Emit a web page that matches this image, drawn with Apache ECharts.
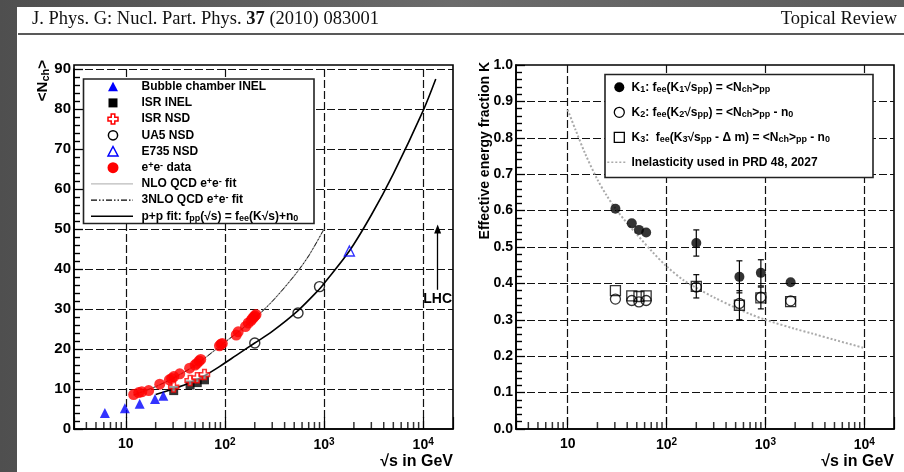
<!DOCTYPE html>
<html>
<head>
<meta charset="utf-8">
<title>Nch and K vs sqrt(s)</title>
<script src="https://cdn.jsdelivr.net/npm/echarts@6.0.0/dist/echarts.min.js"></script>
<style>
  html, body { margin: 0; padding: 0; }
  body { width: 904px; height: 472px; position: relative; overflow: hidden;
         background: linear-gradient(90deg, #4f4f4f, #6b6b6b 50%, #5c5c5c); }
  #page { position: absolute; left: 17px; top: 7px; right: 0; bottom: 0; background: #fff; }
  #main { position: absolute; left: 0; top: 0; width: 904px; height: 472px; }
</style>
</head>
<body>
<div id="page"></div>
<div id="main"></div>
<script>
var FONT = '"Liberation Sans", Arial, Helvetica, sans-serif';
var SERIF = '"Liberation Serif", "Times New Roman", serif';

// left panel: <Nch> against sqrt(s) in GeV
var bubbleInel = [[6.15, 4.0], [9.78, 5.2], [13.8, 6.3], [19.7, 7.5], [23.9, 8.3]];
var isrInel = [[30.4, 9.6], [44.5, 11.0], [52.6, 11.6], [62.2, 12.3]];
var isrNsd = [[30.4, 10.5], [44.5, 12.1], [52.6, 12.8], [62.2, 13.6]];
var ua5Nsd = [[200, 21.5], [546, 29.0], [900, 35.6]];
var e735Nsd = [[1800, 44.5]];
var eeData = [[12, 8.6], [13.5, 9.1], [14.5, 9.3], [17, 9.6], [22, 11.2], [27.5, 12.3], [29, 12.6],
  [30.5, 13.1], [35, 13.8], [44, 15.2], [50, 16.0], [52, 16.4], [55, 17.0], [57, 17.4],
  [88, 20.8], [91.2, 21.2], [94, 21.4], [130, 23.5], [136, 24.3], [161, 25.6], [172, 26.5],
  [183, 27.1], [189, 27.6], [196, 28.0], [200, 28.3], [206, 28.6]];
var eeFit = [[12, 8.5], [15, 9.4], [20, 10.6], [30, 12.7], [50, 15.9], [91, 20.9], [150, 25.1],
  [200, 27.7], [300, 31.9], [500, 38.3], [700, 43.3], [1000, 50]];
var ppFit = [[20, 8.6], [30, 10.0], [45, 11.6], [62, 13.3], [88, 15.6], [130, 18.4], [200, 21.5],
  [300, 24.4], [546, 29.6], [900, 35.0], [1000, 36.4], [1800, 44.5], [3000, 53.5], [5000, 63.8],
  [10000, 79.6], [13400, 87.5]];
var lhcArrow = [[14000, 34.8], [14000, 50]];

// right panel: effective energy fraction K
var k1 = [[30.4, 0.605], [44.5, 0.565], [52.6, 0.547], [62.2, 0.54], [200, 0.511], [546, 0.418], [900, 0.429], [1800, 0.403]];
var k1Err = [[200, 0.511, 0.036], [546, 0.418, 0.044], [900, 0.429, 0.036]];
var k2 = [[30.4, 0.357], [44.5, 0.353], [52.6, 0.349], [62.2, 0.353], [200, 0.39], [546, 0.345], [900, 0.362], [1800, 0.352]];
var k3 = [[30.4, 0.38], [44.5, 0.366], [52.6, 0.364], [62.2, 0.366], [200, 0.392], [546, 0.34], [900, 0.36], [1800, 0.35]];
var k3Err = [[200, 0.392, 0.032], [546, 0.34, 0.04], [900, 0.36, 0.03]];
var inelasticity = [[10, 0.877], [12, 0.822], [15, 0.757], [20, 0.685], [25, 0.64], [30, 0.608], [40, 0.565],
  [50, 0.535], [70, 0.49], [100, 0.447], [150, 0.408], [200, 0.388], [300, 0.362], [500, 0.333],
  [700, 0.316], [1000, 0.300], [2000, 0.275], [3000, 0.262], [5000, 0.245], [10000, 0.2225]];

// axis ticks
var xDecades = [10, 100, 1000, 10000];
var xDecadeLabels = ['10', '10{s|2}', '10{s|3}', '10{s|4}'];
var xMinorTicks = [4, 5, 6, 7, 8, 9, 20, 30, 40, 50, 60, 70, 80, 90, 200, 300, 400, 500, 600, 700, 800, 900,
  2000, 3000, 4000, 5000, 6000, 7000, 8000, 9000];

var leftLegend = [
  ['tri', 'Bubble chamber INEL'],
  ['sq', 'ISR INEL'],
  ['cross', 'ISR NSD'],
  ['ocirc', 'UA5 NSD'],
  ['otri', 'E735 NSD'],
  ['circ', 'e{sup|+}e{sup|-} data'],
  ['gline', 'NLO QCD e{sup|+}e{sup|-} fit'],
  ['dline', '3NLO QCD e{sup|+}e{sup|-} fit'],
  ['line', 'p+p fit: f{sub|pp}(\u221As) = f{sub|ee}(K\u221As)+n{sub|0}']
];
var rightLegend = [
  ['kcirc', 'K{sub|1}: f{sub|ee}(K{sub|1}\u221As{sub|pp}) = <N{sub|ch}>{sub|pp}'],
  ['kocirc', 'K{sub|2}: f{sub|ee}(K{sub|2}\u221As{sub|pp}) = <N{sub|ch}>{sub|pp} - n{sub|0}'],
  ['ksq', 'K{sub|3}:  f{sub|ee}(K{sub|3}\u221As{sub|pp} - \u0394 m) = <N{sub|ch}>{sub|pp} - n{sub|0}'],
  ['kdot', 'Inelasticity used in PRD 48, 2027']
];

var chart = echarts.init(document.getElementById('main'));

function xLabel(v) {
  for (var i = 0; i < xDecades.length; i++) {
    if (Math.abs(v - xDecades[i]) < xDecades[i] * 1e-6) return xDecadeLabels[i];
  }
  return '';
}

var gridDash = { color: '#111', width: 1.2, type: [8, 3] };

function logAxis(gi) {
  return {
    type: 'log', gridIndex: gi, logBase: 10, min: 3, max: 20000,
    axisLine: { show: true, onZero: false, lineStyle: { color: '#000', width: 1.6 } },
    axisTick: { show: true, inside: true, length: 12, lineStyle: { color: '#000', width: 1.2 } },
    minorTick: { show: false },
    splitLine: { show: true, showMinLine: false, showMaxLine: false, lineStyle: gridDash },
    axisLabel: {
      margin: 8, color: '#000', fontFamily: FONT, fontWeight: 'bold', fontSize: 14, formatter: xLabel,
      rich: { s: { fontFamily: FONT, fontWeight: 'bold', fontSize: 10, color: '#000', verticalAlign: 'top', padding: [0, 0, 7, 0] } }
    }
  };
}

// small upward ticks at 2..9 x 10^n, placed through the log axis
function minorTicks(gi) {
  return {
    type: 'scatter', xAxisIndex: gi, yAxisIndex: gi, silent: true, z: 5, clip: false,
    data: xMinorTicks.map(function (v) { return [v, 0]; }),
    symbol: 'rect', symbolSize: [1.5, 7], symbolOffset: [0, -3.5],
    itemStyle: { color: '#000' }
  };
}

function errorBars(data, gi) {
  return {
    type: 'custom', xAxisIndex: gi, yAxisIndex: gi, silent: true, z: 3, data: data,
    renderItem: function (params, api) {
      var x = api.value(0), y = api.value(1), e = api.value(2);
      var lo = api.coord([x, y - e]), hi = api.coord([x, y + e]);
      var st = { stroke: '#000', lineWidth: 1.2 };
      return { type: 'group', children: [
        { type: 'line', shape: { x1: lo[0], y1: lo[1], x2: hi[0], y2: hi[1] }, style: st },
        { type: 'line', shape: { x1: lo[0] - 3, y1: lo[1], x2: lo[0] + 3, y2: lo[1] }, style: st },
        { type: 'line', shape: { x1: hi[0] - 3, y1: hi[1], x2: hi[0] + 3, y2: hi[1] }, style: st }
      ] };
    }
  };
}

function rich(size) {
  var s = Math.round(size * 0.75);
  var pad = Math.round(size * 0.45);
  return {
    sub: { fontFamily: FONT, fontWeight: 'bold', fontSize: s, fill: '#000', verticalAlign: 'bottom', padding: [pad, 0, 0, 0] },
    sup: { fontFamily: FONT, fontWeight: 'bold', fontSize: s, fill: '#000', verticalAlign: 'top', padding: [0, 0, pad, 0] }
  };
}

function label(text, x, y, size, align, rotation) {
  return { type: 'text', x: x, y: y, z: 62, rotation: rotation || 0,
    style: { text: text, fontFamily: FONT, fontWeight: 'bold', fontSize: size, fill: '#000',
             verticalAlign: 'middle', align: align || 'left', rich: rich(size) } };
}

function symbol(kind, x, y) {
  var z = 62;
  var cross = [[-1.8, -5], [1.8, -5], [1.8, -1.8], [5, -1.8], [5, 1.8], [1.8, 1.8], [1.8, 5], [-1.8, 5],
               [-1.8, 1.8], [-5, 1.8], [-5, -1.8], [-1.8, -1.8]];
  var tri = [[0, -5], [5, 4.5], [-5, 4.5]];
  function shift(pts) { return pts.map(function (p) { return [x + p[0], y + p[1]]; }); }
  switch (kind) {
    case 'tri': return { type: 'polygon', z: z, shape: { points: shift(tri) }, style: { fill: '#0000ff' } };
    case 'sq': return { type: 'rect', z: z, shape: { x: x - 4.5, y: y - 4.5, width: 9, height: 9 }, style: { fill: '#000' } };
    case 'cross': return { type: 'polygon', z: z, shape: { points: shift(cross) }, style: { fill: '#fff', stroke: '#ff0000', lineWidth: 1.5 } };
    case 'ocirc': return { type: 'circle', z: z, shape: { cx: x, cy: y, r: 4.6 }, style: { fill: 'none', stroke: '#000', lineWidth: 1.5 } };
    case 'otri': return { type: 'polygon', z: z, shape: { points: shift(tri) }, style: { fill: 'none', stroke: '#0000ff', lineWidth: 1.5 } };
    case 'circ': return { type: 'circle', z: z, shape: { cx: x, cy: y, r: 5.5 }, style: { fill: '#ff0000' } };
    case 'gline': return { type: 'line', z: z, shape: { x1: x - 22, y1: y, x2: x + 20, y2: y }, style: { stroke: '#bbb', lineWidth: 1.2 } };
    case 'dline': return { type: 'line', z: z, shape: { x1: x - 22, y1: y, x2: x + 20, y2: y }, style: { stroke: '#000', lineWidth: 1.2, lineDash: [6, 2, 1.5, 2, 1.5, 2] } };
    case 'line': return { type: 'line', z: z, shape: { x1: x - 22, y1: y, x2: x + 20, y2: y }, style: { stroke: '#000', lineWidth: 1.6 } };
    case 'kcirc': return { type: 'circle', z: z, shape: { cx: x, cy: y, r: 5 }, style: { fill: '#000' } };
    case 'kocirc': return { type: 'circle', z: z, shape: { cx: x, cy: y, r: 5 }, style: { fill: 'none', stroke: '#000', lineWidth: 1.3 } };
    case 'ksq': return { type: 'rect', z: z, shape: { x: x - 5, y: y - 5, width: 10, height: 10 }, style: { fill: 'none', stroke: '#000', lineWidth: 1.3 } };
    case 'kdot': return { type: 'line', z: z, shape: { x1: x - 12, y1: y, x2: x + 7, y2: y }, style: { stroke: '#aaa', lineWidth: 1.5, lineDash: [2, 2] } };
  }
}

var graphics = [];
// page header
graphics.push({ type: 'text', x: 32, y: 19, z: 62, style: { text: 'J. Phys. G: Nucl. Part. Phys. {b|37} (2010) 083001',
  fontFamily: SERIF, fontSize: 18.5, fill: '#111', verticalAlign: 'middle',
  rich: { b: { fontFamily: SERIF, fontSize: 18.5, fontWeight: 'bold', fill: '#111' } } } });
graphics.push({ type: 'text', x: 897, y: 19, z: 62, style: { text: 'Topical Review', fontFamily: SERIF, fontSize: 18.5,
  fill: '#111', verticalAlign: 'middle', align: 'right' } });
graphics.push({ type: 'line', z: 62, shape: { x1: 18, y1: 34, x2: 904, y2: 34 }, style: { stroke: '#222', lineWidth: 1.6 } });

// left frame (top edge sits a little above 90)
graphics.push({ type: 'rect', z: 50, shape: { x: 74, y: 65, width: 379, height: 364 }, style: { fill: 'none', stroke: '#000', lineWidth: 1.6 } });

// legends
graphics.push({ type: 'rect', z: 60, shape: { x: 83.5, y: 79, width: 230.5, height: 144.5 }, style: { fill: '#fff', stroke: '#222', lineWidth: 1.6 } });
leftLegend.forEach(function (it, i) {
  var y = 86.7 + i * 16.2;
  graphics.push(symbol(it[0], 113, y));
  graphics.push(label(it[1], 141.5, y, 12));
});
graphics.push({ type: 'rect', z: 60, shape: { x: 605, y: 74.5, width: 268, height: 103 }, style: { fill: '#fff', stroke: '#222', lineWidth: 1.6 } });
rightLegend.forEach(function (it, i) {
  var y = 87.3 + i * 25;
  graphics.push(symbol(it[0], 619.3, y));
  graphics.push(label(it[1], 631.5, y, 12));
});

// axis titles
graphics.push(label('<N{sub|ch}>', 42.5, 60, 15, 'right', Math.PI / 2));
graphics.push(label('Effective energy fraction K', 485, 62, 14, 'right', Math.PI / 2));
graphics.push(label('\u221As in GeV', 453, 461.5, 16, 'right'));
graphics.push(label('\u221As in GeV', 894, 461.5, 16, 'right'));

var yMinor = { show: true, splitNumber: 5, length: 6, lineStyle: { color: '#000', width: 1.4 } };

var option = {
  animation: false,
  textStyle: { fontFamily: FONT },
  grid: [
    { left: 74, top: 69, width: 379, height: 360, show: false },
    { left: 516, top: 65, width: 378, height: 364, show: true, borderColor: '#000', borderWidth: 1.6, backgroundColor: 'transparent' }
  ],
  xAxis: [logAxis(0), logAxis(1)],
  yAxis: [
    {
      type: 'value', gridIndex: 0, min: 0, max: 90, interval: 10,
      axisLine: { show: true, onZero: false, lineStyle: { color: '#000', width: 1.6 } },
      axisTick: { show: true, inside: true, length: 9, lineStyle: { color: '#000', width: 1.3 } },
      minorTick: yMinor,
      splitLine: { show: true, showMinLine: false, showMaxLine: true, lineStyle: gridDash },
      axisLabel: { margin: 3, color: '#000', fontFamily: FONT, fontWeight: 'bold', fontSize: 15 }
    },
    {
      type: 'value', gridIndex: 1, min: 0, max: 1, interval: 0.1,
      axisLine: { show: true, onZero: false, lineStyle: { color: '#000', width: 1.6 } },
      axisTick: { show: true, inside: true, length: 9, lineStyle: { color: '#000', width: 1.3 } },
      minorTick: yMinor,
      splitLine: { show: true, showMinLine: false, showMaxLine: false, lineStyle: gridDash },
      axisLabel: { margin: 3, color: '#000', fontFamily: FONT, fontWeight: 'bold', fontSize: 14,
        formatter: function (v) { return v.toFixed(1); } }
    }
  ],
  series: [
    { name: 'NLO QCD e+e- fit', type: 'line', data: eeFit, smooth: 0.3, showSymbol: false, silent: true, z: 2,
      lineStyle: { color: '#aaa', width: 1.3 } },
    { name: '3NLO QCD e+e- fit', type: 'line', data: eeFit, smooth: 0.3, showSymbol: false, silent: true, z: 2,
      lineStyle: { color: '#222', width: 1, type: [5, 2, 1.5, 2, 1.5, 2] } },
    { name: 'p+p fit', type: 'line', data: ppFit, smooth: 0.3, showSymbol: false, silent: true, z: 2,
      lineStyle: { color: '#000', width: 1.6 },
      markLine: { silent: true, symbol: ['none', 'triangle'], symbolSize: [7, 9],
        lineStyle: { color: '#000', width: 1.3, type: 'solid' },
        label: { show: true, position: 'start', formatter: 'LHC', distance: 2, color: '#000',
          fontFamily: FONT, fontWeight: 'bold', fontSize: 14 },
        data: [[{ coord: lhcArrow[0] }, { coord: lhcArrow[1] }]] } },
    { name: 'Bubble chamber INEL', type: 'scatter', data: bubbleInel, symbol: 'triangle', symbolSize: 10, z: 3,
      itemStyle: { color: '#0000ff' } },
    { name: 'ISR INEL', type: 'scatter', data: isrInel, symbol: 'rect', symbolSize: 9, z: 3,
      itemStyle: { color: '#000' } },
    { name: 'ISR NSD', type: 'scatter', data: isrNsd, symbol: 'path://M3.2,0H6.8V3.2H10V6.8H6.8V10H3.2V6.8H0V3.2H3.2Z',
      symbolSize: 10, z: 4, itemStyle: { color: 'rgba(255,255,255,0.6)', borderColor: '#ff0000', borderWidth: 1.5 } },
    { name: 'UA5 NSD', type: 'scatter', data: ua5Nsd, symbol: 'circle', symbolSize: 10, z: 3,
      itemStyle: { color: 'rgba(0,0,0,0)', borderColor: '#000', borderWidth: 1.4 } },
    { name: 'E735 NSD', type: 'scatter', data: e735Nsd, symbol: 'triangle', symbolSize: 10, z: 3,
      itemStyle: { color: 'rgba(0,0,0,0)', borderColor: '#0000ff', borderWidth: 1.4 } },
    { name: 'e+e- data', type: 'scatter', data: eeData, symbol: 'circle', symbolSize: 11, z: 3,
      itemStyle: { color: '#ff0000' } },
    minorTicks(0),

    { name: 'Inelasticity', type: 'line', xAxisIndex: 1, yAxisIndex: 1, data: inelasticity, smooth: 0.3,
      showSymbol: false, silent: true, z: 2, lineStyle: { color: '#aaa', width: 2, type: [2, 2] } },
    errorBars(k1Err, 1),
    errorBars(k3Err, 1),
    { name: 'K2', type: 'scatter', xAxisIndex: 1, yAxisIndex: 1, data: k2, symbol: 'circle', symbolSize: 10, z: 4,
      itemStyle: { color: 'rgba(0,0,0,0)', borderColor: '#000', borderWidth: 1.3 } },
    { name: 'K3', type: 'scatter', xAxisIndex: 1, yAxisIndex: 1, data: k3, symbol: 'rect', symbolSize: 10, z: 4,
      itemStyle: { color: 'rgba(0,0,0,0)', borderColor: '#000', borderWidth: 1.3 } },
    { name: 'K1', type: 'scatter', xAxisIndex: 1, yAxisIndex: 1, data: k1, symbol: 'circle', symbolSize: 10, z: 4,
      itemStyle: { color: '#000' } },
    minorTicks(1)
  ],
  graphic: { elements: graphics }
};

chart.setOption(option);
</script>
</body>
</html>
